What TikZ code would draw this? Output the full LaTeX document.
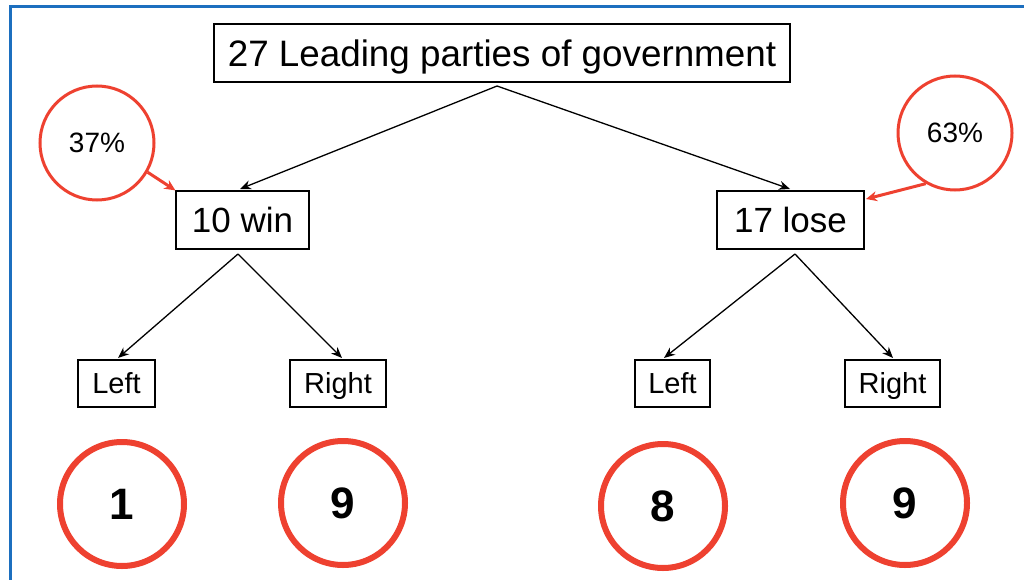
\documentclass[tikz,border=0pt]{standalone}
\usepackage{fontspec}
\setmainfont{Liberation Sans}
\usetikzlibrary{arrows.meta}
\definecolor{redc}{HTML}{EE4130}
\definecolor{bluec}{HTML}{1C6FBF}
\begin{document}
\begin{tikzpicture}[x=1pt,y=-1pt,
  box/.style={draw,line width=1.2pt,inner sep=0pt},
  bigbox/.style={box,minimum height=58pt,text height=31pt,text depth=6pt,font=\fontsize{35}{40}\selectfont},
  smallbox/.style={box,minimum height=47pt,text height=26.4pt,text depth=5.7pt,font=\fontsize{29}{32}\selectfont},
  edge/.style={draw,line width=1.3pt,-{Stealth[length=11pt,width=9pt]}},
  pct/.style={draw=redc,line width=3pt,circle,minimum size=114pt,inner sep=0pt,font=\fontsize{28}{32}\selectfont},
  pctarrow/.style={draw=redc,line width=3pt,-{Stealth[length=11pt,width=10pt]}},
  res/.style={draw=redc,line width=6pt,circle,minimum size=124pt,inner sep=0pt,font=\fontsize{44}{50}\selectfont\bfseries}]
\useasboundingbox (0,0) rectangle (1024,580);
\draw[bluec,line width=3pt] (10,600) -- (10,7) -- (1030,7);
\node[box,minimum height=58pt,text height=33pt,text depth=6.6pt,minimum width=576pt,font=\fontsize{36.8}{42}\selectfont] (top) at (502,53) {27 Leading parties of government};
\node[bigbox,minimum width=133pt] (win) at (242.5,220) {10 win};
\node[bigbox,minimum width=147pt] (lose) at (790.5,220) {17 lose};
\node[smallbox,minimum width=77pt] (wl) at (116.5,383.5) {Left};
\node[smallbox,minimum width=96pt] (wr) at (338,383.5) {Right};
\node[smallbox,minimum width=75pt] (ll) at (672.5,383.5) {Left};
\node[smallbox,minimum width=95pt] (lr) at (892.5,383.5) {Right};
\coordinate (tb) at (497,86);
\coordinate (wb) at (238,254);
\coordinate (lb) at (795,254);
\draw[edge] (tb) -- (240,189);
\draw[edge] (tb) -- (790,189);
\draw[edge] (wb) -- (118,358);
\draw[edge] (wb) -- (342,358);
\draw[edge] (lb) -- (664,358);
\draw[edge] (lb) -- (893,358);
\node[pct] (p37) at (97,143) {37\%};
\node[pct] (p63) at (955,133) {63\%};
\draw[pctarrow] (p37.-30) -- (win.north west);
\draw[pctarrow] (p63.-120) -- (866,199);
\node[res] (r1) at (122,504) {1};
\node[res] (r2) at (343,503) {9};
\node[res] (r3) at (663,506) {8};
\node[res] (r4) at (905,503) {9};
\end{tikzpicture}
\end{document}
